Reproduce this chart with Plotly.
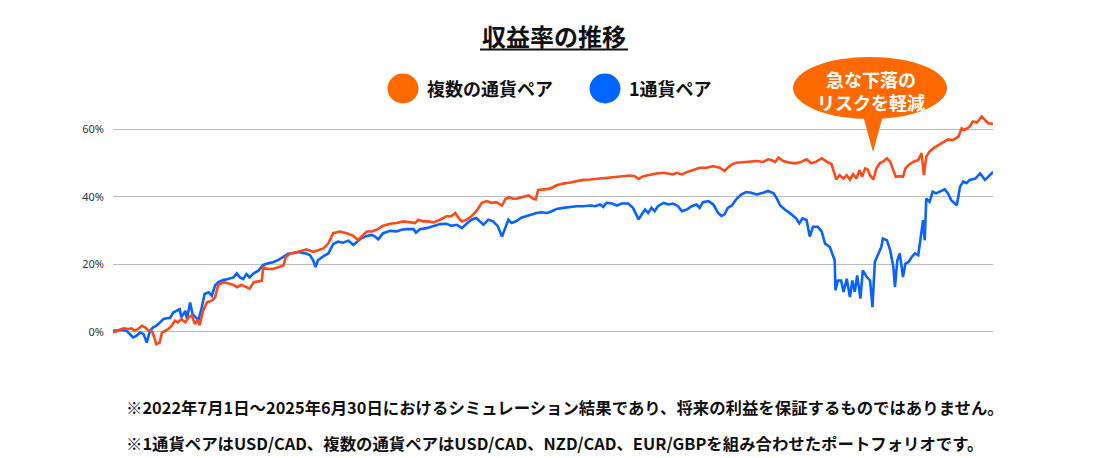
import plotly.graph_objects as go

# ---- data (days since 2022-07-01, cumulative return %) ----
multi_days = [0, 7, 13, 19, 23, 27, 31, 36, 40, 44, 48, 50, 54, 58, 61, 65, 69, 73, 77, 81, 85, 90, 94, 98,
              102, 105, 108, 112, 117, 123, 127, 131, 137, 143, 150, 154, 160, 166, 170, 175, 181, 185, 187,
              193, 199, 206, 212, 215, 220, 229, 237, 241, 249, 255, 262, 268, 274, 282, 291, 299, 305, 309,
              316, 322, 328, 336, 345, 353, 361, 370, 376, 380, 386, 392, 399, 407, 415, 421, 426, 430, 434,
              440, 446, 452, 459, 465, 471, 477, 484, 488, 492, 498, 502, 511, 517, 523, 526, 529, 535, 544,
              552, 560, 569, 577, 585, 594, 602, 610, 618, 627, 635, 643, 649, 654, 660, 668, 676, 685, 691,
              697, 701, 708, 714, 722, 730, 739, 747, 755, 761, 765, 770, 776, 784, 792, 801, 809, 815, 820,
              824, 828, 834, 842, 850, 857, 863, 869, 875, 882, 888, 894, 898, 900, 904, 909, 913, 917, 921,
              925, 929, 932, 936, 939, 942, 946, 950, 954, 958, 963, 967, 971, 974, 979, 983, 986, 990, 996,
              1002, 1006, 1009, 1012, 1016, 1021, 1027, 1033, 1039, 1045, 1052, 1056, 1060, 1066, 1070, 1075,
              1081, 1085, 1089, 1095]
multi_ret = [-0.2, 0.5, 1.0, 0.8, 1.0, 0.3, 0.8, 1.8, 1.3, 0.3, 0.3, -0.7, -3.7, -3.2, -0.2, 0.3, 0.8, 1.8,
             3.3, 2.8, 3.8, 2.8, 4.3, 4.8, 2.3, 3.3, 2.0, 6.2, 8.7, 9.2, 10.2, 13.9, 14.7, 14.4, 13.9, 13.2,
             13.9, 13.2, 12.7, 14.7, 15.0, 15.1, 19.1, 18.6, 18.6, 19.1, 19.6, 22.1, 23.1, 23.6, 24.1, 24.4,
             23.7, 24.2, 24.7, 26.2, 29.2, 29.7, 29.2, 28.4, 27.2, 28.2, 29.7, 29.7, 30.2, 31.4, 32.0, 32.2,
             32.7, 32.4, 32.2, 33.2, 32.7, 32.7, 32.4, 33.2, 34.2, 34.2, 35.2, 33.7, 32.7, 33.2, 34.2, 35.7,
             38.2, 38.7, 38.2, 38.4, 37.4, 39.2, 39.9, 39.4, 39.4, 40.0, 40.4, 39.4, 39.2, 42.0, 42.2, 42.4,
             43.4, 43.9, 44.2, 44.7, 45.0, 45.1, 45.3, 45.4, 45.6, 45.9, 46.1, 46.3, 46.1, 45.3, 46.1, 46.6,
             46.9, 47.1, 46.9, 46.6, 47.1, 46.6, 47.3, 47.9, 48.6, 48.6, 49.1, 48.6, 47.6, 48.6, 49.6, 50.1,
             50.3, 50.3, 50.6, 50.3, 51.1, 50.8, 50.3, 51.6, 50.6, 50.1, 49.9, 50.4, 51.1, 49.9, 50.4, 51.4,
             50.4, 49.7, 46.9, 45.1, 46.4, 45.4, 46.4, 45.1, 46.7, 45.4, 47.9, 45.9, 48.4, 48.1, 46.4, 45.1,
             48.4, 49.9, 50.4, 51.4, 50.4, 47.9, 45.9, 46.1, 45.9, 48.4, 49.4, 50.4, 50.9, 52.9, 46.4, 51.9,
             53.4, 54.4, 55.3, 56.3, 57.0, 56.8, 57.8, 60.3, 59.8, 60.8, 62.3, 62.0, 63.8, 62.8, 61.8, 61.6]

single_days = [0, 9, 17, 21, 25, 29, 34, 38, 42, 46, 50, 54, 58, 63, 67, 71, 75, 79, 83, 85, 90, 92, 96, 99,
               103, 106, 110, 114, 119, 123, 127, 131, 137, 143, 150, 154, 158, 162, 166, 170, 175, 181, 187,
               193, 199, 206, 212, 218, 224, 231, 237, 240, 245, 249, 252, 255, 262, 268, 274, 280, 286, 293,
               299, 304, 309, 316, 322, 326, 330, 336, 345, 353, 359, 365, 374, 377, 382, 390, 399, 407, 415,
               421, 428, 434, 440, 446, 452, 457, 461, 467, 473, 479, 484, 488, 492, 496, 502, 508, 515, 521,
               527, 533, 540, 546, 552, 560, 569, 577, 585, 594, 600, 606, 610, 614, 621, 627, 633, 641, 647,
               654, 658, 662, 666, 670, 674, 678, 685, 691, 697, 703, 708, 714, 720, 726, 730, 734, 741, 747,
               753, 757, 761, 765, 770, 776, 782, 788, 794, 801, 809, 815, 822, 826, 830, 836, 843, 850, 854,
               858, 863, 867, 871, 877, 882, 886, 892, 896, 898, 899, 902, 906, 909, 913, 917, 920, 923, 926,
               930, 933, 938, 942, 945, 948, 952, 956, 958, 963, 967, 971, 973, 976, 979, 983, 986, 990, 994,
               998, 1002, 1005, 1008, 1010, 1012, 1016, 1020, 1024, 1029, 1035, 1039, 1043, 1050, 1054, 1058,
               1062, 1066, 1073, 1079, 1085, 1089, 1095]
single_ret = [0.3, 0.5, 0.3, -0.7, -1.7, -1.2, -0.2, -0.7, -3.2, 0.3, 1.3, 1.8, 2.8, 3.8, 4.0, 4.1, 5.7, 6.2,
              6.7, 4.3, 6.2, 3.8, 8.7, 5.2, 4.3, 3.3, 6.7, 11.2, 11.7, 10.7, 13.7, 14.7, 15.3, 15.6, 16.1,
              17.3, 16.1, 15.6, 17.1, 16.1, 17.3, 18.1, 19.8, 20.3, 20.6, 21.3, 22.3, 23.1, 23.3, 23.6, 23.3,
              23.2, 22.7, 21.2, 19.2, 21.2, 22.4, 23.2, 26.0, 26.7, 26.4, 27.0, 25.7, 26.7, 27.7, 28.4, 28.7,
              28.2, 27.4, 29.2, 29.9, 29.7, 30.2, 30.4, 30.4, 29.4, 30.4, 30.7, 31.4, 31.9, 32.0, 31.4, 31.7,
              30.7, 32.0, 33.2, 33.7, 32.7, 31.7, 33.2, 32.7, 31.2, 28.2, 30.7, 33.2, 32.2, 32.8, 33.8, 34.3,
              34.8, 35.2, 35.4, 35.2, 35.7, 36.4, 36.7, 37.0, 37.2, 37.2, 37.4, 37.2, 37.7, 37.0, 38.2, 38.0,
              37.4, 38.0, 38.0, 36.7, 33.3, 34.8, 36.2, 35.2, 36.7, 35.7, 37.2, 38.2, 37.7, 38.0, 37.2, 35.7,
              36.2, 37.2, 37.7, 36.7, 38.4, 38.7, 37.7, 35.2, 34.3, 34.8, 36.7, 37.4, 39.4, 40.7, 41.4, 41.2,
              40.7, 41.2, 41.7, 41.0, 39.5, 37.5, 36.2, 35.0, 33.6, 32.1, 33.6, 33.1, 28.2, 31.1, 31.1, 29.6,
              26.1, 25.1, 22.2, 21.2, 12.3, 15.2, 15.2, 11.8, 15.7, 10.3, 15.2, 11.8, 16.7, 9.8, 18.2, 16.2,
              15.2, 7.3, 20.7, 22.7, 25.1, 27.6, 27.1, 24.2, 19.2, 13.3, 21.2, 23.2, 16.2, 20.2, 20.7, 22.2,
              23.2, 22.7, 28.1, 33.1, 27.1, 39.5, 38.5, 41.5, 41.0, 41.5, 42.2, 41.0, 39.0, 37.5, 43.0, 44.5,
              44.0, 45.0, 45.4, 46.9, 45.0, 45.9, 47.4]

series_names = ["複数の通貨ペア", "1通貨ペア"]
tick_vals = [0, 20, 40, 60]
tick_text = ["0%", "20%", "40%", "60%"]
title_text = "収益率の推移"
callout_lines = ["急な下落の", "リスクを軽減"]
notes = [
    "※2022年7月1日～2025年6月30日におけるシミュレーション結果であり、将来の利益を保証するものではありません。",
    "※1通貨ペアはUSD/CAD、複数の通貨ペアはUSD/CAD、NZD/CAD、EUR/GBPを組み合わせたポートフォリオです。",
]

# ---- layout geometry (pixels) ----
W, H = 1118, 458
L, R, T, B = 113, 125, 109, 106
PW, PH = W - L - R, H - T - B
JP = "Noto Sans CJK JP"

def px(x):
    return (x - L) / PW

def py(y):
    return (H - B - y) / PH

LINE_ORANGE = "#FF4A1A"
LINE_BLUE = "#0A62FF"
DOT_ORANGE = "#FF6A00"
DOT_BLUE = "#0066FF"

fig = go.Figure()
fig.add_trace(go.Scatter(x=single_days, y=single_ret, mode="lines", name=series_names[1],
                         line=dict(color=LINE_BLUE, width=2.6), showlegend=False))
fig.add_trace(go.Scatter(x=multi_days, y=multi_ret, mode="lines", name=series_names[0],
                         line=dict(color=LINE_ORANGE, width=2.6), showlegend=False))

fig.update_layout(
    width=W, height=H,
    margin=dict(l=L, r=R, t=T, b=B),
    paper_bgcolor="white", plot_bgcolor="white",
    xaxis=dict(range=[0, 1095], visible=False, showgrid=False, zeroline=False),
    yaxis=dict(range=[-6, 66], tickvals=tick_vals, ticktext=tick_text, showgrid=True,
               gridcolor="#BDBDBD", gridwidth=1, zeroline=False, showline=False, ticks="",
               ticklabelstandoff=8, tickfont=dict(family="Noto Sans", size=11, color="#333333")),
    font=dict(family=JP),
)

shapes = []
annotations = []

# title + underline
annotations.append(dict(text=title_text, x=px(554), y=py(36), xref="paper", yref="paper",
                        showarrow=False, xanchor="center", yanchor="middle",
                        font=dict(family=JP, size=24, color="#111111", weight="bold")))
shapes.append(dict(type="line", xref="paper", yref="paper", x0=px(480), x1=px(628), y0=py(49.5), y1=py(49.5),
                   line=dict(color="#111111", width=2)))

# legend (manual)
for cx, col, name, tx in [(403, DOT_ORANGE, series_names[0], 425), (605, DOT_BLUE, series_names[1], 627)]:
    shapes.append(dict(type="circle", xref="paper", yref="paper", xsizemode="pixel", ysizemode="pixel",
                       xanchor=px(cx), yanchor=py(88.5), x0=-15.5, x1=15.5, y0=-15, y1=15,
                       fillcolor=col, line=dict(width=0)))
    annotations.append(dict(text=name, x=px(tx), y=py(88), xref="paper", yref="paper", showarrow=False,
                            xanchor="left", yanchor="middle",
                            font=dict(family=JP, size=18, color="#111111", weight="bold")))

# callout bubble
shapes.append(dict(type="circle", xref="paper", yref="paper", x0=px(793), x1=px(947), y0=py(119), y1=py(57),
                   fillcolor=DOT_ORANGE, line=dict(width=0)))
shapes.append(dict(type="path", xref="paper", yref="paper",
                   path=f"M {px(862)},{py(112)} L {px(884)},{py(112)} L {px(873)},{py(152)} Z",
                   fillcolor=DOT_ORANGE, line=dict(width=0)))
annotations.append(dict(text="<br>".join(callout_lines), x=px(871), y=py(91), xref="paper", yref="paper",
                        showarrow=False, xanchor="center", yanchor="middle", align="center",
                        font=dict(family=JP, size=18, color="white", weight="bold")))

# footnotes
for note, yy in zip(notes, [407, 443]):
    annotations.append(dict(text=note, x=px(124), y=py(yy), xref="paper", yref="paper", showarrow=False,
                            xanchor="left", yanchor="middle",
                            font=dict(family=JP, size=16.4, color="#111111", weight="bold")))

fig.update_layout(shapes=shapes, annotations=annotations)
fig.write_html("out.html", config={"displayModeBar": False},
               post_script="document.body.style.margin='0';document.body.style.overflow='hidden';")
